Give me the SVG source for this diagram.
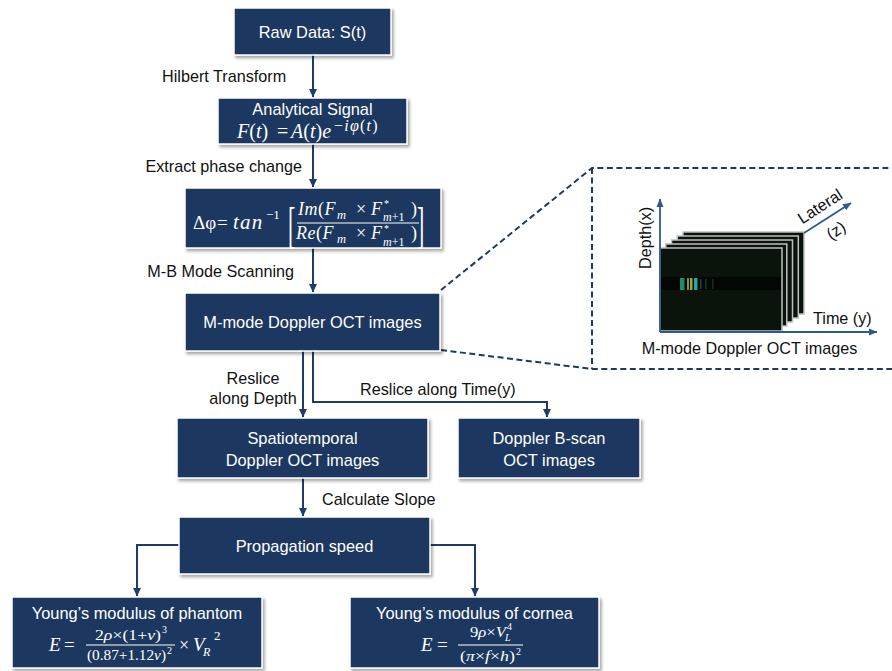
<svg xmlns="http://www.w3.org/2000/svg" width="892" height="671" viewBox="0 0 892 671">
  <defs>
    <filter id="shadow" x="-10%" y="-10%" width="125%" height="135%">
      <feDropShadow dx="2" dy="2.5" stdDeviation="1.5" flood-color="#000000" flood-opacity="0.35"/>
    </filter>
    <marker id="arrow" markerUnits="userSpaceOnUse" markerWidth="9" markerHeight="9" refX="8" refY="4.5" orient="auto">
      <path d="M0,0.5 L8.5,4.5 L0,8.5 z" fill="#1f3c68"/>
    </marker>
    <marker id="arrowThin" markerUnits="userSpaceOnUse" markerWidth="9" markerHeight="9" refX="8" refY="4.5" orient="auto">
      <path d="M0,1 L8.5,4.5 L0,8 z" fill="#2d5a8e"/>
    </marker>
  </defs>
  <style>
    .box { fill: #1b3761; stroke: #ffffff; stroke-width: 1.5; filter: url(#shadow); }
    .t { font-family: "Liberation Sans", Arial, sans-serif; font-size: 16.4px; fill: #ffffff; text-anchor: middle; }
    .lbl { font-family: "Liberation Sans", Arial, sans-serif; font-size: 16.2px; fill: #111111; }
    .m { font-family: "Liberation Serif", "DejaVu Serif", serif; fill: #ffffff; }
    .i { font-style: italic; }
    .rule { stroke: #ffffff; stroke-width: 1; }
    .conn { fill: none; stroke: #1f3c68; stroke-width: 2; }
    .dash { fill: none; stroke: #1f3864; stroke-width: 2; stroke-dasharray: 6 3.5; }
    .frame { fill: #0a140b; stroke: #bfbfbf; stroke-width: 1.5; }
    .axis { fill: none; stroke: #2d5a8e; stroke-width: 1.8; }
  </style>

  <!-- connectors -->
  <g id="connectors">
    <path class="conn" d="M313,55 V97" marker-end="url(#arrow)"/>
    <path class="conn" d="M313,144 V187" marker-end="url(#arrow)"/>
    <path class="conn" d="M313,248 V292" marker-end="url(#arrow)"/>
    <path class="conn" d="M303,351 V417" marker-end="url(#arrow)"/>
    <path class="conn" d="M313,351 V402 H547 V417" marker-end="url(#arrow)"/>
    <path class="conn" d="M303,478 V516" marker-end="url(#arrow)"/>
    <path class="conn" d="M179,545 H137 V596" marker-end="url(#arrow)"/>
    <path class="conn" d="M430,545 H475 V596" marker-end="url(#arrow)"/>
    <!-- zoom-out guides to the inset -->
    <path class="dash" d="M441,290 L592,168 H892"/>
    <path class="dash" d="M441,350 L592,369 H892"/>
    <path class="dash" d="M592,168 V369"/>
  </g>

  <!-- edge labels -->
  <g id="edge-labels">
    <text class="lbl" x="162" y="82">Hilbert Transform</text>
    <text class="lbl" x="302" y="172" text-anchor="end">Extract phase change</text>
    <text class="lbl" x="294" y="277" text-anchor="end">M-B Mode Scanning</text>
    <text class="lbl" x="253" y="384" text-anchor="middle">Reslice</text>
    <text class="lbl" x="253" y="404" text-anchor="middle">along Depth</text>
    <text class="lbl" x="360" y="395">Reslice along Time(y)</text>
    <text class="lbl" x="322" y="505">Calculate Slope</text>
  </g>

  <g id="raw-data">
    <rect class="box" x="234" y="8" width="157" height="47"/>
    <text class="t" x="312.5" y="38">Raw Data: S(t)</text>
  </g>

  <g id="analytical-signal">
    <rect class="box" x="218" y="98" width="189" height="46"/>
    <text class="t" x="312.5" y="115">Analytical Signal</text>
    <text class="m" font-size="20" x="237" y="138"><tspan class="i">F</tspan>(<tspan class="i">t</tspan>)</text>
    <text class="m" font-size="20" x="277" y="138">=</text>
    <text class="m" font-size="20" x="291" y="138"><tspan class="i">A</tspan>(<tspan class="i">t</tspan>)<tspan class="i">e</tspan></text>
    <text class="m" font-size="16" x="334" y="131" letter-spacing="1.2">−<tspan class="i">iφ</tspan>(<tspan class="i">t</tspan>)</text>
  </g>

  <g id="phase-change">
    <rect class="box" x="185" y="188" width="256" height="60"/>
    <text class="m" font-size="19" x="193" y="229">Δφ</text>
    <text class="m" font-size="19" x="217" y="229">=</text>
    <text class="m i" font-size="21" x="233" y="229" letter-spacing="1.2">tan</text>
    <text class="m" font-size="13" x="266" y="219">−1</text>
    <text class="m" font-size="22" transform="translate(288,242) scale(1,2.35)">[</text>
    <text class="m" font-size="22" transform="translate(417,242) scale(1,2.35)">]</text>
    <line class="rule" x1="297" y1="223" x2="419" y2="223"/>
    <!-- numerator -->
    <text class="m i" font-size="18" x="298" y="215" letter-spacing="0.5">Im<tspan font-style="normal">(</tspan>F</text>
    <text class="m i" font-size="12.5" x="337" y="219">m</text>
    <text class="m" font-size="18" x="356" y="215">×</text>
    <text class="m i" font-size="18" x="371" y="215">F</text>
    <text class="m" font-size="10" x="384" y="207">*</text>
    <text class="m" font-size="12" x="383" y="220.5"><tspan class="i">m</tspan>+1</text>
    <text class="m" font-size="18" x="411" y="215">)</text>
    <!-- denominator -->
    <text class="m i" font-size="18" x="296" y="239" letter-spacing="0.5">Re<tspan font-style="normal">(</tspan>F</text>
    <text class="m i" font-size="12.5" x="337" y="243">m</text>
    <text class="m" font-size="18" x="356" y="239">×</text>
    <text class="m i" font-size="18" x="371" y="239">F</text>
    <text class="m" font-size="10" x="384" y="232">*</text>
    <text class="m" font-size="12" x="383" y="245.5"><tspan class="i">m</tspan>+1</text>
    <text class="m" font-size="18" x="411" y="239">)</text>
  </g>

  <g id="mmode-images">
    <rect class="box" x="185" y="293" width="255" height="58"/>
    <text class="t" x="312.5" y="328">M-mode Doppler OCT images</text>
  </g>

  <g id="spatiotemporal">
    <rect class="box" x="177" y="418" width="251" height="60"/>
    <text class="t" x="302.5" y="444">Spatiotemporal</text>
    <text class="t" x="302.5" y="466">Doppler OCT images</text>
  </g>

  <g id="bscan">
    <rect class="box" x="458" y="418" width="182" height="60"/>
    <text class="t" x="549" y="444">Doppler B-scan</text>
    <text class="t" x="549" y="466">OCT images</text>
  </g>

  <g id="propagation-speed">
    <rect class="box" x="179" y="517" width="251" height="57"/>
    <text class="t" x="304.5" y="552">Propagation speed</text>
  </g>

  <g id="modulus-phantom">
    <rect class="box" x="12" y="597" width="250" height="71"/>
    <text class="t" x="137" y="619">Young’s modulus of phantom</text>
    <text class="m i" font-size="19" x="49" y="651">E</text>
    <text class="m" font-size="19" x="64" y="651">=</text>
    <text class="m" font-size="14" x="95" y="640" textLength="66" lengthAdjust="spacingAndGlyphs">2<tspan class="i">ρ</tspan>×(1+<tspan class="i">ν</tspan>)</text>
    <text class="m" font-size="10" x="162" y="633">3</text>
    <line class="rule" x1="86" y1="645" x2="175" y2="645"/>
    <text class="m" font-size="14" x="87" y="660" textLength="79" lengthAdjust="spacingAndGlyphs">(0.87+1.12<tspan class="i">ν</tspan>)</text>
    <text class="m" font-size="10" x="167" y="654">2</text>
    <text class="m" font-size="18" x="179" y="651">×</text>
    <text class="m i" font-size="19" x="193" y="651">V</text>
    <text class="m i" font-size="12" x="203" y="656">R</text>
    <text class="m" font-size="13" x="214" y="640">2</text>
  </g>

  <g id="modulus-cornea">
    <rect class="box" x="350" y="597" width="249" height="71"/>
    <text class="t" x="474.5" y="619">Young’s modulus of cornea</text>
    <text class="m i" font-size="19" x="421" y="651">E</text>
    <text class="m" font-size="19" x="437" y="651">=</text>
    <text class="m" font-size="14" x="470" y="637" textLength="36" lengthAdjust="spacingAndGlyphs">9<tspan class="i">ρ</tspan>×<tspan class="i">V</tspan></text>
    <text class="m" font-size="10" x="507" y="630">4</text>
    <text class="m i" font-size="10" x="505" y="641">L</text>
    <line class="rule" x1="458" y1="645" x2="523" y2="645"/>
    <text class="m" font-size="14" x="460" y="661" textLength="55" lengthAdjust="spacingAndGlyphs">(<tspan class="i">π</tspan>×<tspan class="i">f</tspan>×<tspan class="i">h</tspan>)</text>
    <text class="m" font-size="10" x="516" y="655">2</text>
  </g>

  <!-- inset: stack of M-mode frames with axes -->
  <g id="inset">
    <rect class="frame" x="683" y="232" width="121" height="82"/>
    <rect class="frame" x="677.3" y="236" width="121" height="82"/>
    <rect class="frame" x="671.5" y="240" width="121" height="82"/>
    <rect class="frame" x="665.8" y="244" width="121" height="82"/>
    <rect class="frame" x="660" y="248" width="122" height="83"/>
    <rect x="661" y="277" width="120" height="13" fill="#030604"/>
    <rect x="680" y="278" width="4.5" height="12" fill="#1f8a6c"/>
    <rect x="687" y="278" width="2" height="12" fill="#7e9a22"/>
    <rect x="690" y="278" width="2.5" height="12" fill="#a3a62c"/>
    <rect x="694" y="278" width="3.5" height="12" fill="#23a6a8"/>
    <rect x="700" y="279" width="1.5" height="10" fill="#1c4a2a"/>
    <rect x="705" y="279" width="1.5" height="10" fill="#163a20"/>
    <rect x="712" y="279" width="1.5" height="10" fill="#12301a"/>
    <path class="axis" d="M660,332 V199" marker-end="url(#arrowThin)"/>
    <path class="axis" d="M660,332 H877" marker-end="url(#arrowThin)"/>
    <path class="axis" d="M804,233 L851,203" marker-end="url(#arrowThin)"/>
    <text class="lbl" font-size="16.4" transform="translate(651,238) rotate(-90)" text-anchor="middle">Depth(x)</text>
    <text class="lbl" font-size="16.4" transform="translate(823,211) rotate(-33)" text-anchor="middle">Lateral</text>
    <text class="lbl" font-size="16.4" transform="translate(839,235) rotate(-33)" text-anchor="middle">(z)</text>
    <text class="lbl" font-size="16.4" x="813" y="324">Time (y)</text>
    <text class="lbl" font-size="16.4" x="749.5" y="354" text-anchor="middle">M-mode Doppler OCT images</text>
  </g>
</svg>
